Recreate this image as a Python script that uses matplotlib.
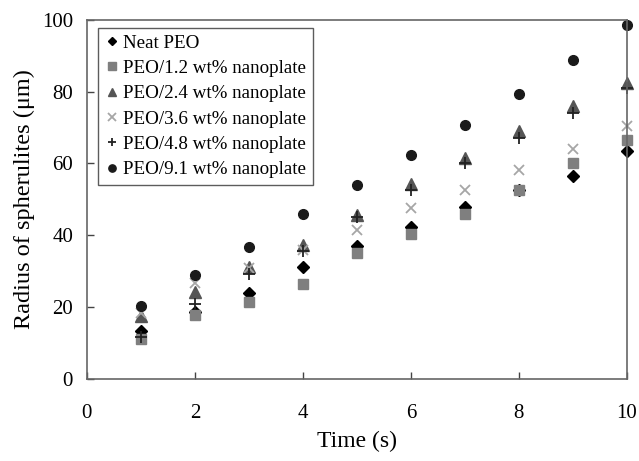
import matplotlib
matplotlib.use("Agg")
import matplotlib.pyplot as plt

plt.rcParams["font.family"] = ["Liberation Serif", "DejaVu Serif"]

time_s = [1, 2, 3, 4, 5, 6, 7, 8, 9, 10]

neat_peo = [13.3, 18.6, 23.9, 31.1, 37.0, 42.2, 48.0, 52.6, 56.5, 63.6]
peo_1_2 = [11.1, 17.8, 21.5, 26.5, 35.0, 40.3, 46.0, 52.6, 60.1, 66.4]
peo_2_4 = [17.4, 24.3, 31.3, 37.3, 45.7, 54.2, 61.6, 69.1, 76.0, 82.4]
peo_3_6 = [18.3, 26.7, 31.0, 36.0, 41.5, 47.5, 52.6, 58.2, 64.0, 70.3]
peo_4_8 = [11.6, 20.8, 29.2, 35.7, 45.0, 52.5, 60.0, 67.0, 74.0, 81.0]
peo_9_1 = [20.2, 28.9, 36.8, 45.9, 54.0, 62.4, 70.8, 79.4, 88.7, 98.6]

labels = ["Neat PEO", "PEO/1.2 wt% nanoplate", "PEO/2.4 wt% nanoplate",
          "PEO/3.6 wt% nanoplate", "PEO/4.8 wt% nanoplate", "PEO/9.1 wt% nanoplate"]

fig = plt.figure(figsize=(6.39, 4.61), dpi=100)
ax = fig.add_axes([0.136, 0.178, 0.845, 0.779])

# markers at x=10 sit on the right spine, so don't clip them
ax.plot(time_s, neat_peo, "D", color="black", ms=6, label=labels[0], ls="none", clip_on=False)
ax.plot(time_s, peo_1_2, "s", color="#7f7f7f", ms=7, label=labels[1], ls="none", clip_on=False)
ax.plot(time_s, peo_2_4, "^", color="#555555", ms=8, label=labels[2], ls="none", clip_on=False)
ax.plot(time_s, peo_3_6, "x", color="#a6a6a6", ms=7, mew=1.3, label=labels[3], ls="none", clip_on=False)
ax.plot(time_s, peo_4_8, "+", color="#222222", ms=8, mew=1.3, label=labels[4], ls="none", clip_on=False)
ax.plot(time_s, peo_9_1, "o", color="#1a1a1a", ms=7, label=labels[5], ls="none", clip_on=False)

ax.set_xlim(0, 10)
ax.set_ylim(0, 100)
ax.set_xticks(range(0, 11, 2))
ax.set_yticks(range(0, 101, 20))
ax.tick_params(direction="in", length=5, width=1, labelsize=15, colors="#444444",
               labelcolor="black")
ax.tick_params(axis="x", pad=18)
ax.tick_params(axis="y", pad=10)
for sp in ax.spines.values():
    sp.set_color("#666666")
    sp.set_linewidth(1.2)

ax.set_xlabel("Time (s)", fontsize=17, labelpad=6)
ax.set_ylabel("Radius of spherulites (μm)", fontsize=17.5, labelpad=5)

leg = ax.legend(loc="upper left", bbox_to_anchor=(0.02, 0.978), borderaxespad=0,
                fontsize=13.7, frameon=True, fancybox=False, handletextpad=0.2,
                handlelength=0.8, borderpad=0.35, labelspacing=0.42, markerscale=0.75)
leg.get_frame().set_edgecolor("#333333")
leg.get_frame().set_linewidth(1.0)

fig.savefig("out.png", dpi=100)
